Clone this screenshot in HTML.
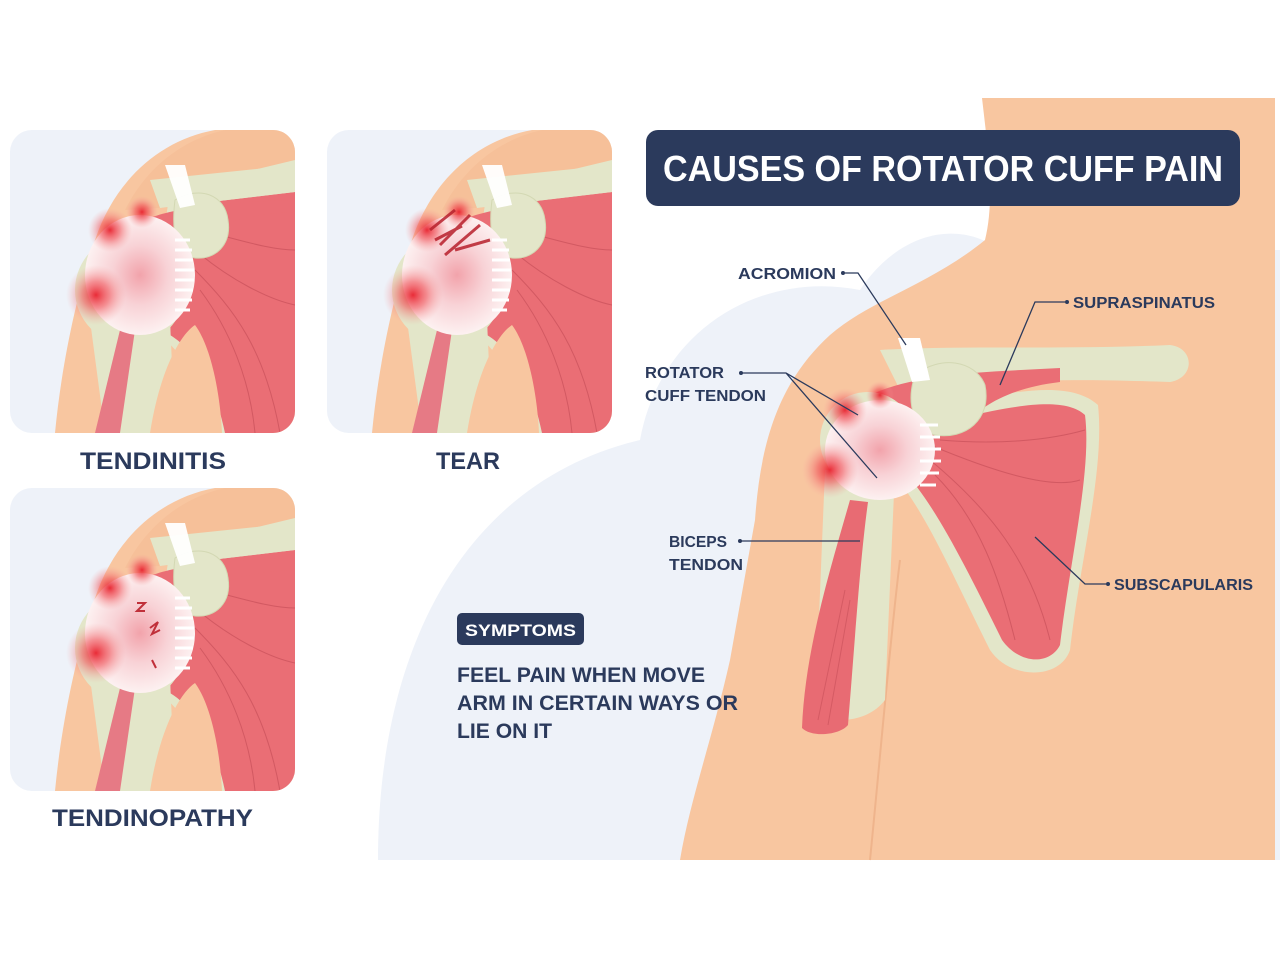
<!DOCTYPE html>
<html><head><meta charset="utf-8"><style>
html,body{margin:0;padding:0;background:#fff;}
svg{display:block;}
text{font-family:"Liberation Sans",sans-serif;font-weight:bold;fill:#2b3a5c;}
</style></head><body>
<svg width="1280" height="960" viewBox="0 0 1280 960" xmlns="http://www.w3.org/2000/svg">
<defs>
<radialGradient id="glow"><stop offset="0" stop-color="#e8222e" stop-opacity="0.95"/><stop offset="0.45" stop-color="#f0545a" stop-opacity="0.6"/><stop offset="1" stop-color="#f5a0a0" stop-opacity="0"/></radialGradient>
<radialGradient id="tend"><stop offset="0" stop-color="#f2a3ab"/><stop offset="0.5" stop-color="#f8d2d6"/><stop offset="1" stop-color="#fdf1f1"/></radialGradient>
<clipPath id="pc"><rect x="0" y="0" width="285" height="303" rx="22"/></clipPath>
<g id="shoulder">
  <rect x="0" y="0" width="285" height="303" rx="22" fill="#eef2f9"/>
  <g clip-path="url(#pc)">
  <path d="M285 0 L205 0 C150 10 105 50 85 110 C68 160 52 230 45 303 L285 303 Z" fill="#f8c6a0"/>
  <path d="M285 0 L215 0 C170 10 135 40 115 80 L285 70 Z" fill="#f5bd95" opacity="0.6"/>
  <!-- scapula bone outline -->
  <path d="M160 60 L285 30 L285 303 L200 303 C190 250 170 215 140 200 Z" fill="#e3e6c9"/>
  <!-- muscle -->
  <path d="M175 75 L285 62 L285 303 L215 303 C205 255 185 220 160 205 L165 90 Z" fill="#ea6e75"/>
  <path d="M185 120 C220 150 260 170 285 175 M185 140 C225 180 255 220 270 303 M190 160 C220 200 240 250 245 303 M190 100 C230 110 260 120 285 120" stroke="#c8505a" stroke-width="1" fill="none" opacity="0.7"/>
  <!-- clavicle -->
  <path d="M140 50 L285 35 L285 62 L150 78 Z" fill="#e3e6c9"/>
  <!-- supraspinatus -->
  <path d="M125 95 C150 80 200 72 285 70 L285 82 C220 85 190 100 165 130 L130 140 Z" fill="#ea6e75"/>
  <!-- humerus -->
  <circle cx="120" cy="160" r="55" fill="#e3e6c9"/>
  <path d="M80 190 L160 190 L165 303 L95 303 Z" fill="#e3e6c9"/>
  <!-- inner skin -->
  <path d="M140 303 C150 240 170 205 185 195 C200 215 210 260 212 303 Z" fill="#f8c6a0"/>
  <!-- biceps -->
  <path d="M110 200 L125 200 L110 303 L85 303 Z" fill="#e67a85"/>
  <!-- acromion -->
  <path d="M165 70 C190 55 215 65 218 90 C222 115 205 130 185 128 C170 125 160 110 165 70 Z" fill="#e3e6c9" stroke="#d3d8b3" stroke-width="1"/>
  <path d="M155 35 L175 35 L185 75 L170 78 Z" fill="#fff" opacity="0.95"/>
  <!-- tendon -->
  <ellipse cx="130" cy="145" rx="55" ry="60" fill="url(#tend)"/>
  <path d="M165 110 L180 110 M165 120 L182 120 M165 130 L183 130 M165 140 L184 140 M165 150 L184 150 M165 160 L183 160 M165 170 L182 170 M165 180 L180 180" stroke="#fff" stroke-width="3"/>
  <circle cx="86" cy="165" r="30" fill="url(#glow)"/>
  <circle cx="100" cy="100" r="22" fill="url(#glow)"/>
  <circle cx="132" cy="82" r="16" fill="url(#glow)"/>
  </g>
</g>
</defs>

<!-- big light blob -->
<path d="M378 860 C378 640 470 480 640 440 C660 330 760 270 860 290 C900 230 960 220 1000 250 L1280 250 L1280 860 Z" fill="#eef2f9"/>

<!-- body -->
<path d="M982 98 L1275 98 L1275 860 L680 860 C690 800 712 740 730 660 L755 520 C760 450 775 385 830 335 C870 300 930 285 985 240 C995 200 988 150 982 98 Z" fill="#f8c6a0"/>
<path d="M900 560 C890 640 880 760 870 860" stroke="#efb48c" stroke-width="2" fill="none"/>

<!-- scapula outline & muscle -->
<path d="M890 420 C990 395 1065 375 1098 405 C1105 470 1080 560 1070 650 C1060 680 1010 680 990 650 C950 570 925 510 890 470 Z" fill="#e3e6c9"/>
<path d="M905 432 C990 410 1060 392 1085 415 C1092 470 1070 560 1060 645 C1050 665 1020 665 1002 640 C965 565 935 505 903 470 Z" fill="#ea6e75"/>
<path d="M930 445 C990 470 1050 490 1080 480 M930 460 C990 510 1030 560 1050 640 M935 475 C980 520 1000 580 1015 640 M940 440 C1000 445 1050 440 1085 430" stroke="#c8505a" stroke-width="1" fill="none" opacity="0.7"/>
<!-- clavicle -->
<path d="M880 350 C960 345 1060 350 1170 345 C1195 348 1195 378 1170 382 C1060 378 990 380 900 390 Z" fill="#e3e6c9"/>
<!-- supraspinatus -->
<path d="M870 395 C920 372 990 372 1060 368 L1060 382 C1010 388 980 405 960 430 L880 440 Z" fill="#ea6e75"/>
<!-- humerus -->
<circle cx="868" cy="440" r="48" fill="#e3e6c9"/>
<path d="M825 470 L895 470 L885 700 C870 720 840 725 815 715 Z" fill="#e3e6c9"/>
<!-- biceps muscle -->
<path d="M850 500 L868 502 C860 560 855 640 848 725 C840 735 812 738 802 728 C805 650 830 570 850 500 Z" fill="#e86b73"/>
<path d="M818 720 L845 590 M828 725 L850 600" stroke="#c8505a" stroke-width="1" opacity="0.6"/>
<!-- acromion -->
<path d="M915 375 C940 355 975 360 985 385 C992 420 965 440 935 435 C915 430 905 405 915 375 Z" fill="#e3e6c9" stroke="#d3d8b3"/>
<path d="M898 338 L920 338 L930 380 L912 382 Z" fill="#fff"/>
<!-- tendon -->
<ellipse cx="880" cy="450" rx="55" ry="50" fill="url(#tend)"/>
<path d="M920 425 L938 425 M920 437 L940 437 M920 449 L941 449 M920 461 L941 461 M920 473 L939 473 M920 485 L936 485" stroke="#fff" stroke-width="3"/>
<circle cx="830" cy="470" r="28" fill="url(#glow)"/>
<circle cx="845" cy="410" r="22" fill="url(#glow)"/>
<circle cx="880" cy="395" r="14" fill="url(#glow)"/>

<!-- title -->
<rect x="646" y="130" width="594" height="76" rx="12" fill="#2b3a5c"/>
<text x="663" y="181" font-size="36" style="fill:#fff" textLength="560" lengthAdjust="spacingAndGlyphs">CAUSES OF ROTATOR CUFF PAIN</text>

<!-- leaders -->
<g stroke="#2b3a5c" stroke-width="1.3" fill="none">
<path d="M845 273 L858 273 L906 345"/>
<path d="M1065 302 L1035 302 L1000 385"/>
<path d="M742 373 L786 373 L858 415 M786 373 L877 478"/>
<path d="M740 541 L860 541"/>
<path d="M1106 584 L1085 584 L1035 537"/>
</g>
<g fill="#2b3a5c"><circle cx="843" cy="273" r="2"/><circle cx="1067" cy="302" r="2"/><circle cx="741" cy="373" r="2"/><circle cx="740" cy="541" r="2"/><circle cx="1108" cy="584" r="2"/></g>
<text x="738" y="279" font-size="16" textLength="98" lengthAdjust="spacingAndGlyphs">ACROMION</text>
<text x="1073" y="308" font-size="16" textLength="142" lengthAdjust="spacingAndGlyphs">SUPRASPINATUS</text>
<text x="645" y="378" font-size="16" textLength="79" lengthAdjust="spacingAndGlyphs">ROTATOR</text>
<text x="645" y="401" font-size="16" textLength="121" lengthAdjust="spacingAndGlyphs">CUFF TENDON</text>
<text x="669" y="547" font-size="16" textLength="58" lengthAdjust="spacingAndGlyphs">BICEPS</text>
<text x="669" y="570" font-size="16" textLength="74" lengthAdjust="spacingAndGlyphs">TENDON</text>
<text x="1114" y="590" font-size="16" textLength="139" lengthAdjust="spacingAndGlyphs">SUBSCAPULARIS</text>

<!-- symptoms -->
<rect x="457" y="613" width="127" height="32" rx="5" fill="#2b3a5c"/>
<text x="465" y="636" font-size="17" style="fill:#fff" textLength="111" lengthAdjust="spacingAndGlyphs">SYMPTOMS</text>
<text x="457" y="682" font-size="21" textLength="248" lengthAdjust="spacingAndGlyphs">FEEL PAIN WHEN MOVE</text>
<text x="457" y="710" font-size="21" textLength="281" lengthAdjust="spacingAndGlyphs">ARM IN CERTAIN WAYS OR</text>
<text x="457" y="738" font-size="21" textLength="95" lengthAdjust="spacingAndGlyphs">LIE ON IT</text>

<!-- panels -->
<use href="#shoulder" transform="translate(10,130)"/>
<use href="#shoulder" transform="translate(327,130)"/>
<g stroke="#b8202c" stroke-width="3" opacity="0.85">
<path d="M430 230 L455 210 M440 245 L470 215 M445 255 L480 225 M455 250 L490 240 M435 240 L462 226"/>
</g>
<use href="#shoulder" transform="translate(10,488)"/>
<g stroke="#c0303a" stroke-width="2" fill="none">
<path d="M137 603 L145 603 L137 611 L145 611 M150 628 L158 622 L152 634 L160 630 M152 660 L156 668"/>
</g>

<text x="80" y="469" font-size="24" textLength="146" lengthAdjust="spacingAndGlyphs">TENDINITIS</text>
<text x="436" y="469" font-size="24" textLength="64" lengthAdjust="spacingAndGlyphs">TEAR</text>
<text x="52" y="826" font-size="24" textLength="201" lengthAdjust="spacingAndGlyphs">TENDINOPATHY</text>
</svg>
</body></html>
